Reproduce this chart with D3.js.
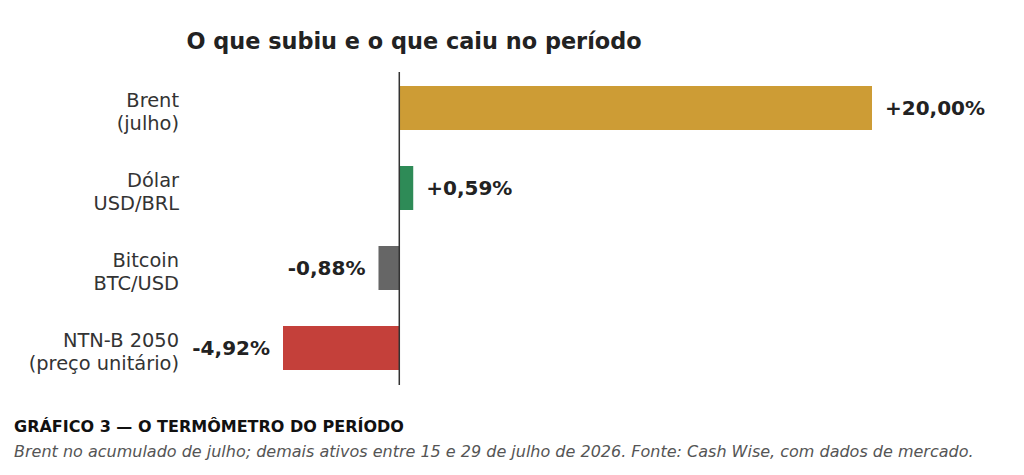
<!DOCTYPE html>
<html>
<head>
<meta charset="utf-8">
<script src="https://cdn.jsdelivr.net/npm/d3@7"></script>
<style>
  html, body { margin: 0; padding: 0; background: #fff; }
  text { font-family: "DejaVu Sans", sans-serif; }
</style>
</head>
<body>
<div id="main"></div>
<script>
// data
var categories = [["Brent", "(julho)"], ["Dólar", "USD/BRL"], ["Bitcoin", "BTC/USD"], ["NTN-B 2050", "(preço unitário)"]];
var values = [20.00, 0.59, -0.88, -4.92];
var colors = ["#cd9c35", "#2e8b57", "#666666", "#c4403a"];
var labels = ["+20,00%", "+0,59%", "-0,88%", "-4,92%"];

var w = 1024,
	h = 475;

var svg = d3.select("#main")
	.append("svg")
	.attr("width", w)
	.attr("height", h);

// scales
var x = d3.scaleLinear()
	.domain([-4.92, 20])
	.range([283, 872]);

var y = d3.scaleBand()
	.domain(d3.range(values.length))
	.range([66, 390])
	.paddingInner(0.45)
	.paddingOuter(0.25);

// title
svg.append("text")
	.attr("x", 414)
	.attr("y", 49)
	.attr("text-anchor", "middle")
	.style("font-size", "22.4px")
	.style("font-weight", "bold")
	.style("fill", "#222")
	.text("O que subiu e o que caiu no período");

// bars
svg.selectAll("rect.bar")
	.data(values)
	.enter()
	.append("rect")
	.attr("class", "bar")
	.attr("x", function(d) { return x(Math.min(0, d)); })
	.attr("y", function(d, i) { return y(i); })
	.attr("width", function(d) { return Math.abs(x(d) - x(0)); })
	.attr("height", y.bandwidth())
	.attr("fill", function(d, i) { return colors[i]; });

// zero line
svg.append("line")
	.attr("x1", x(0))
	.attr("x2", x(0))
	.attr("y1", 72)
	.attr("y2", 385)
	.attr("stroke", "#333")
	.attr("stroke-width", 1.5);

// value labels
svg.selectAll("text.val")
	.data(values)
	.enter()
	.append("text")
	.attr("class", "val")
	.attr("x", function(d) { return d >= 0 ? x(d) + 13 : x(d) - 13; })
	.attr("y", function(d, i) { return y(i) + y.bandwidth() / 2; })
	.attr("dy", "0.35em")
	.attr("text-anchor", function(d) { return d >= 0 ? "start" : "end"; })
	.style("font-size", "20px")
	.style("font-weight", "bold")
	.style("fill", "#222")
	.text(function(d, i) { return labels[i]; });

// category labels
var cat = svg.selectAll("text.cat")
	.data(categories)
	.enter()
	.append("text")
	.attr("class", "cat")
	.attr("text-anchor", "end")
	.style("font-size", "19.4px")
	.style("fill", "#333");

cat.selectAll("tspan")
	.data(function(d, i) { return d.map(function(s, j) { return { s: s, j: j, i: i }; }); })
	.enter()
	.append("tspan")
	.attr("x", 179)
	.attr("y", function(d) { return y(d.i) + y.bandwidth() / 2 + (d.j === 0 ? -1 : 21.5); })
	.text(function(d) { return d.s; });

// caption
svg.append("text")
	.attr("x", 14)
	.attr("y", 432)
	.style("font-size", "16px")
	.style("font-weight", "bold")
	.style("fill", "#111")
	.text("GRÁFICO 3 — O TERMÔMETRO DO PERÍODO");

svg.append("text")
	.attr("x", 14)
	.attr("y", 457)
	.style("font-size", "16px")
	.style("font-style", "italic")
	.style("fill", "#555")
	.text("Brent no acumulado de julho; demais ativos entre 15 e 29 de julho de 2026. Fonte: Cash Wise, com dados de mercado.");
</script>
</body>
</html>
